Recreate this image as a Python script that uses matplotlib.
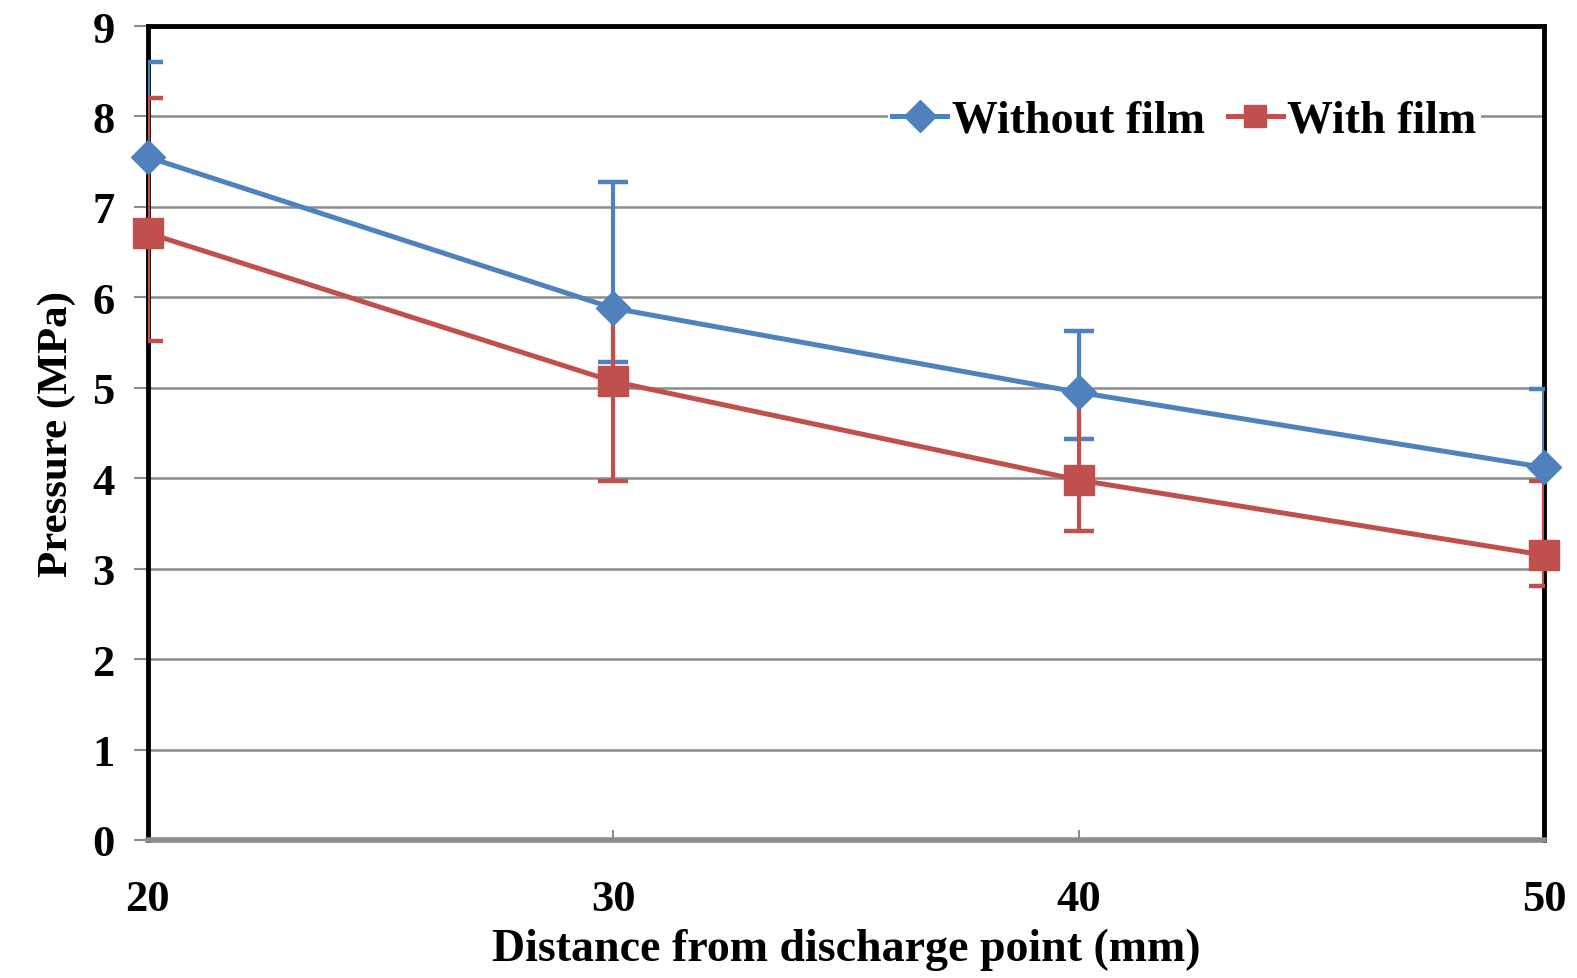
import matplotlib.pyplot as plt
import matplotlib as mpl

mpl.rcParams['font.family'] = ['Liberation Serif', 'DejaVu Serif']
mpl.rcParams['font.weight'] = 'bold'
mpl.rcParams['axes.labelweight'] = 'bold'
mpl.rcParams['font.size'] = 32

distance = [20, 30, 40, 50]

# Without film
p_without = [7.55, 5.88, 4.95, 4.12]
err_without_lo = [0.85, 0.60, 0.52, 0.92]
err_without_hi = [1.05, 1.40, 0.68, 0.87]

# With film
p_with = [6.71, 5.07, 3.98, 3.15]
err_with_lo = [1.19, 1.10, 0.56, 0.34]
err_with_hi = [1.49, 0.81, 0.97, 0.82]

blue = '#4F81BD'
red = '#C0504D'
dark_red = '#C00000'

fig = plt.figure(figsize=(15.77, 9.79), dpi=100)
ax = fig.add_axes([0.0938, 0.141, 0.8852, 0.8314])

# error bars
eb1 = ax.errorbar(distance, p_without, yerr=[err_without_lo, err_without_hi], fmt='none',
                  ecolor=blue, elinewidth=3, capsize=10.5, capthick=3.2, zorder=3)
eb2 = ax.errorbar(distance, p_with, yerr=[err_with_lo, err_with_hi], fmt='none',
                  ecolor=red, elinewidth=3, capsize=10.5, capthick=3.2, zorder=3)
for cap in eb2[1]:
    cap.set_color(dark_red)

ax.plot(distance, p_with, color=red, lw=3.6, marker='s', ms=21, mec=red, mfc=red,
        label='With film', zorder=4, clip_on=False)
ax.plot(distance, p_without, color=blue, lw=3.6, marker='D', ms=17, mec=blue, mfc=blue,
        label='Without film', zorder=5, clip_on=False)

ax.set_xlim(20, 50)
ax.set_ylim(0, 9)
ax.set_xticks(distance)
ax.set_yticks(range(10))
ax.grid(True, axis='y', color='#8c8c8c', lw=1.8)
ax.set_axisbelow(True)

ax.tick_params(axis='y', direction='out', length=10, width=1.5, color='#8c8c8c', pad=14)
ax.tick_params(axis='x', direction='in', length=7, width=1.5, color='#8c8c8c', pad=28)

for s in ax.spines.values():
    s.set_color('black')
    s.set_linewidth(3.5)
ax.spines['bottom'].set_color('#8c8c8c')
ax.spines['bottom'].set_linewidth(4)

ax.set_xlabel('Distance from discharge point (mm)', fontsize=33, labelpad=6)
ax.set_ylabel('Pressure (MPa)', fontsize=31, labelpad=12)

handles, labels = ax.get_legend_handles_labels()
leg = ax.legend(handles[::-1], labels[::-1], loc='upper right', bbox_to_anchor=(0.955, 0.915),
                ncol=2, frameon=True, fancybox=False, edgecolor='none', facecolor='white',
                framealpha=1, handlelength=1.2, handletextpad=0.1, columnspacing=0.5,
                borderpad=0.1, borderaxespad=0, fontsize=33)
for h in leg.legend_handles:
    h.set_markersize(16)

fig.savefig('out.png', dpi=100)
